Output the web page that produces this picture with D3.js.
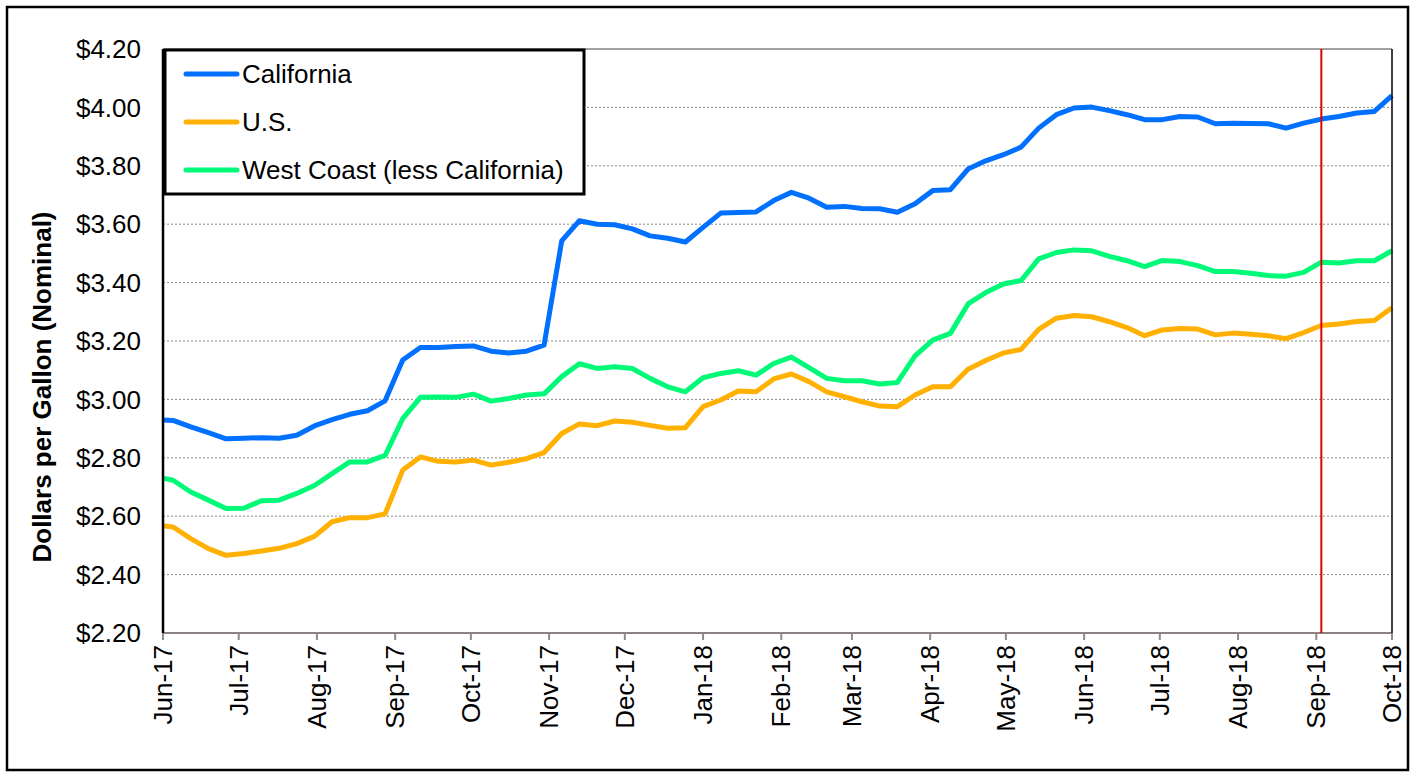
<!DOCTYPE html>
<html>
<head>
<meta charset="utf-8">
<script src="https://cdn.jsdelivr.net/npm/d3@7"></script>
<style>
  body { margin: 0; background: #fff; }
  svg { display: block; font-family: "Liberation Sans", Arial, sans-serif; }
</style>
</head>
<body>
<svg></svg>
<script>
// weekly retail gasoline prices (Mondays)
var weeks = [
  "2017-05-29","2017-06-05","2017-06-12","2017-06-19","2017-06-26","2017-07-03","2017-07-10","2017-07-17",
  "2017-07-24","2017-07-31","2017-08-07","2017-08-14","2017-08-21","2017-08-28","2017-09-04","2017-09-11",
  "2017-09-18","2017-09-25","2017-10-02","2017-10-09","2017-10-16","2017-10-23","2017-10-30","2017-11-06",
  "2017-11-13","2017-11-20","2017-11-27","2017-12-04","2017-12-11","2017-12-18","2017-12-25","2018-01-01",
  "2018-01-08","2018-01-15","2018-01-22","2018-01-29","2018-02-05","2018-02-12","2018-02-19","2018-02-26",
  "2018-03-05","2018-03-12","2018-03-19","2018-03-26","2018-04-02","2018-04-09","2018-04-16","2018-04-23",
  "2018-04-30","2018-05-07","2018-05-14","2018-05-21","2018-05-28","2018-06-04","2018-06-11","2018-06-18",
  "2018-06-25","2018-07-02","2018-07-09","2018-07-16","2018-07-23","2018-07-30","2018-08-06","2018-08-13",
  "2018-08-20","2018-08-27","2018-09-03","2018-09-10","2018-09-17","2018-09-24","2018-10-01"
];

var california = [
  2.930,2.928,2.906,2.886,2.865,2.867,2.869,2.867,2.877,2.909,2.931,2.949,2.961,2.995,3.135,3.178,
  3.178,3.181,3.183,3.165,3.159,3.165,3.186,3.543,3.612,3.600,3.598,3.584,3.560,3.552,3.539,3.589,
  3.638,3.640,3.642,3.681,3.709,3.689,3.658,3.661,3.654,3.653,3.641,3.670,3.715,3.718,3.789,3.817,
  3.838,3.864,3.929,3.975,3.998,4.001,3.989,3.975,3.958,3.958,3.969,3.967,3.944,3.946,3.945,3.944,
  3.929,3.946,3.960,3.969,3.981,3.986,4.040
];

var us = [
  2.570,2.563,2.523,2.489,2.466,2.472,2.481,2.490,2.506,2.531,2.581,2.595,2.595,2.608,2.758,2.803,
  2.788,2.786,2.792,2.775,2.785,2.797,2.818,2.883,2.916,2.910,2.926,2.922,2.911,2.901,2.903,2.975,
  2.998,3.029,3.026,3.070,3.087,3.061,3.026,3.009,2.992,2.977,2.975,3.015,3.043,3.043,3.103,3.133,
  3.159,3.171,3.240,3.278,3.287,3.283,3.266,3.246,3.218,3.238,3.243,3.241,3.221,3.227,3.223,3.218,
  3.208,3.229,3.253,3.258,3.267,3.270,3.314
];

var westCoast = [
  2.735,2.723,2.683,2.655,2.626,2.627,2.653,2.655,2.678,2.705,2.746,2.786,2.786,2.808,2.934,3.007,
  3.008,3.007,3.018,2.994,3.003,3.015,3.019,3.078,3.122,3.106,3.112,3.106,3.072,3.043,3.026,3.074,
  3.089,3.098,3.083,3.123,3.145,3.109,3.072,3.064,3.064,3.053,3.058,3.149,3.203,3.226,3.327,3.366,
  3.395,3.407,3.481,3.503,3.512,3.509,3.490,3.475,3.455,3.476,3.472,3.458,3.438,3.438,3.432,3.424,
  3.422,3.435,3.470,3.467,3.475,3.475,3.509
];

var seriesNames = ["California", "U.S.", "West Coast (less California)"];
var seriesColors = ["#0070ff", "#ffb000", "#00fa78"];
var yTicks = [2.2, 2.4, 2.6, 2.8, 3.0, 3.2, 3.4, 3.6, 3.8, 4.0, 4.2];
var axisStart = "2017-06-01", axisEnd = "2018-10-01";
var markerDate = "2018-09-03";

var parse = d3.timeParse("%Y-%m-%d");

var svg = d3.select("svg")
  .attr("width", 1415)
  .attr("height", 772);

var margin = {left: 163, right: 1392, top: 49, bottom: 633};

var x = d3.scaleTime()
  .domain([parse(axisStart), parse(axisEnd)])
  .range([margin.left, margin.right]);

var y = d3.scaleLinear()
  .domain([2.2, 4.2])
  .range([margin.bottom, margin.top]);

// outer frame
svg.append("rect")
  .attr("x", 7).attr("y", 7)
  .attr("width", 1401).attr("height", 763)
  .attr("fill", "none")
  .attr("stroke", "#000")
  .attr("stroke-width", 2.5);

// gridlines
svg.append("g")
  .selectAll("line")
  .data(yTicks.slice(1, -1))
  .enter().append("line")
  .attr("x1", margin.left).attr("x2", margin.right)
  .attr("y1", d => y(d)).attr("y2", d => y(d))
  .attr("stroke", "#8a8a8a")
  .attr("stroke-width", 1)
  .attr("stroke-dasharray", "2,2");

// top border of plot area
svg.append("line")
  .attr("x1", margin.left).attr("x2", margin.right)
  .attr("y1", margin.top).attr("y2", margin.top)
  .attr("stroke", "#444").attr("stroke-width", 1);

// y labels
svg.append("g")
  .selectAll("text")
  .data(yTicks)
  .enter().append("text")
  .attr("x", 141)
  .attr("y", d => y(d))
  .attr("dy", "0.35em")
  .attr("text-anchor", "end")
  .style("font-size", "26px")
  .text(d => d3.format("$.2f")(d));

// x axis
var monthTicks = d3.timeMonth.range(parse(axisStart), d3.timeDay.offset(parse(axisEnd), 1));

svg.append("line")
  .attr("x1", margin.left).attr("x2", margin.right)
  .attr("y1", margin.bottom).attr("y2", margin.bottom)
  .attr("stroke", "#8c8282").attr("stroke-width", 2);

svg.append("g")
  .selectAll("line")
  .data(monthTicks)
  .enter().append("line")
  .attr("x1", d => x(d)).attr("x2", d => x(d))
  .attr("y1", margin.bottom).attr("y2", margin.bottom + 7)
  .attr("stroke", "#8c8c8c").attr("stroke-width", 2);

svg.append("g")
  .selectAll("text")
  .data(monthTicks)
  .enter().append("text")
  .attr("transform", d => "translate(" + x(d) + "," + (margin.bottom + 12) + ") rotate(-90)")
  .attr("dy", "0.35em")
  .attr("text-anchor", "end")
  .style("font-size", "26px")
  .text(d => d3.timeFormat("%b-%y")(d));

// y axis title
svg.append("text")
  .attr("transform", "translate(42,387) rotate(-90)")
  .attr("dy", "0.35em")
  .attr("text-anchor", "middle")
  .style("font-size", "26px")
  .style("font-weight", "bold")
  .text("Dollars per Gallon (Nominal)");

// clip lines to plot area
svg.append("clipPath").attr("id", "plot")
  .append("rect")
  .attr("x", margin.left).attr("y", margin.top - 10)
  .attr("width", margin.right - margin.left + 4)
  .attr("height", margin.bottom - margin.top + 10);

var line = d3.line()
  .x((d, i) => x(parse(weeks[i])))
  .y(d => y(d));

var plot = svg.append("g").attr("clip-path", "url(#plot)");

[california, us, westCoast].forEach(function(vals, i) {
  plot.append("path")
    .datum(vals)
    .attr("d", line)
    .attr("fill", "none")
    .attr("stroke", seriesColors[i])
    .attr("stroke-width", 5)
    .attr("stroke-linejoin", "round");
});

// red marker line
svg.append("line")
  .attr("x1", x(parse(markerDate))).attr("x2", x(parse(markerDate)))
  .attr("y1", margin.top).attr("y2", margin.bottom)
  .attr("stroke", "#e00000").attr("stroke-width", 2);

// plot borders left & right
svg.append("line")
  .attr("x1", margin.left).attr("x2", margin.left)
  .attr("y1", margin.top).attr("y2", margin.bottom)
  .attr("stroke", "#000").attr("stroke-width", 2.5);
svg.append("line")
  .attr("x1", margin.right).attr("x2", margin.right)
  .attr("y1", margin.top).attr("y2", margin.bottom)
  .attr("stroke", "#000").attr("stroke-width", 1.5);

// legend
var legend = svg.append("g");
legend.append("rect")
  .attr("x", 165).attr("y", 50)
  .attr("width", 419).attr("height", 144)
  .attr("fill", "#fff")
  .attr("stroke", "#000")
  .attr("stroke-width", 3);

seriesNames.forEach(function(name, i) {
  var ly = 74 + i * 48;
  legend.append("line")
    .attr("x1", 186).attr("x2", 237)
    .attr("y1", ly).attr("y2", ly)
    .attr("stroke", seriesColors[i])
    .attr("stroke-width", 5)
    .attr("stroke-linecap", "round");
  legend.append("text")
    .attr("x", 242).attr("y", ly)
    .attr("dy", "0.35em")
    .style("font-size", "26px")
    .text(name);
});
</script>
</body>
</html>
